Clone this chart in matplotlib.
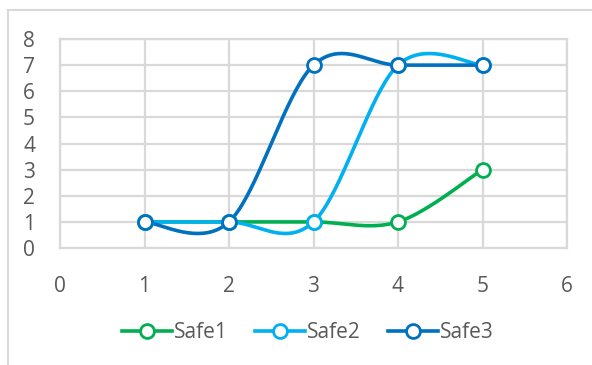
import numpy as np
import matplotlib.pyplot as plt
from matplotlib.patches import Rectangle

x = [1, 2, 3, 4, 5]
safe1 = [1, 1, 1, 1, 3]
safe2 = [1, 1, 1, 7, 7]
safe3 = [1, 1, 7, 7, 7]
names = ['Safe1', 'Safe2', 'Safe3']
colors = ['#00B050', '#00B0F0', '#0070C0']


def smooth(xs, ys, n=40):
    # bezier segments with catmull-rom style control points
    p = np.column_stack([xs, ys]).astype(float)
    pts = np.vstack([p[0], p, p[-1]])
    out = []
    t = np.linspace(0, 1, n)[:, None]
    for i in range(1, len(pts) - 2):
        p0, p1 = pts[i], pts[i + 1]
        c1 = p0 + (pts[i + 1] - pts[i - 1]) / 6
        c2 = p1 - (pts[i + 2] - pts[i]) / 6
        seg = (1 - t)**3 * p0 + 3 * (1 - t)**2 * t * c1 + 3 * (1 - t) * t**2 * c2 + t**3 * p1
        out.append(seg)
    seg = np.vstack(out)
    return seg[:, 0], seg[:, 1]


plt.rcParams['font.family'] = ['Open Sans', 'DejaVu Sans']
fig = plt.figure(figsize=(5.92, 3.65), dpi=100)
fig.patches.append(Rectangle((8 / 592, -0.1), 1.2, 1 - 10 / 365 + 0.1, transform=fig.transFigure,
                             fill=False, edgecolor='#d9d9d9', linewidth=1.5))
ax = fig.add_axes([60 / 592, 1 - 248 / 365, (567 - 60) / 592, (248 - 39) / 365])

for ys, name, c in zip([safe1, safe2, safe3], names, colors):
    sx, sy = smooth(x, ys)
    ax.plot(sx, sy, color=c, linewidth=2.6, solid_capstyle='round')
    ax.plot([], [], color=c, linewidth=2.6, marker='o', markersize=10,
            markerfacecolor='white', markeredgecolor=c, markeredgewidth=2, label=name)
for ys, c in zip([safe1, safe2, safe3], colors):
    ax.plot(x, ys, linestyle='none', marker='o', markersize=10, markerfacecolor='white',
            markeredgecolor=c, markeredgewidth=2)

ax.set_xlim(0, 6)
ax.set_ylim(0, 8)
ax.set_xticks(range(0, 7))
ax.set_yticks(range(0, 9))
ax.grid(True, color='#d9d9d9', linewidth=1.6)
ax.set_axisbelow(True)
for s in ax.spines.values():
    s.set_color('#d9d9d9')
    s.set_linewidth(1.6)
ax.tick_params(length=0, labelsize=15, colors='#595959', pad=20)
ax.tick_params(axis='y', pad=18)

fig.legend(loc='center', bbox_to_anchor=(0.52, 1 - 333 / 365), ncol=3, frameon=False,
           fontsize=15, labelcolor='#595959', handlelength=2.4, handletextpad=0.1,
           columnspacing=1.3)

fig.savefig('out.png', dpi=100)
